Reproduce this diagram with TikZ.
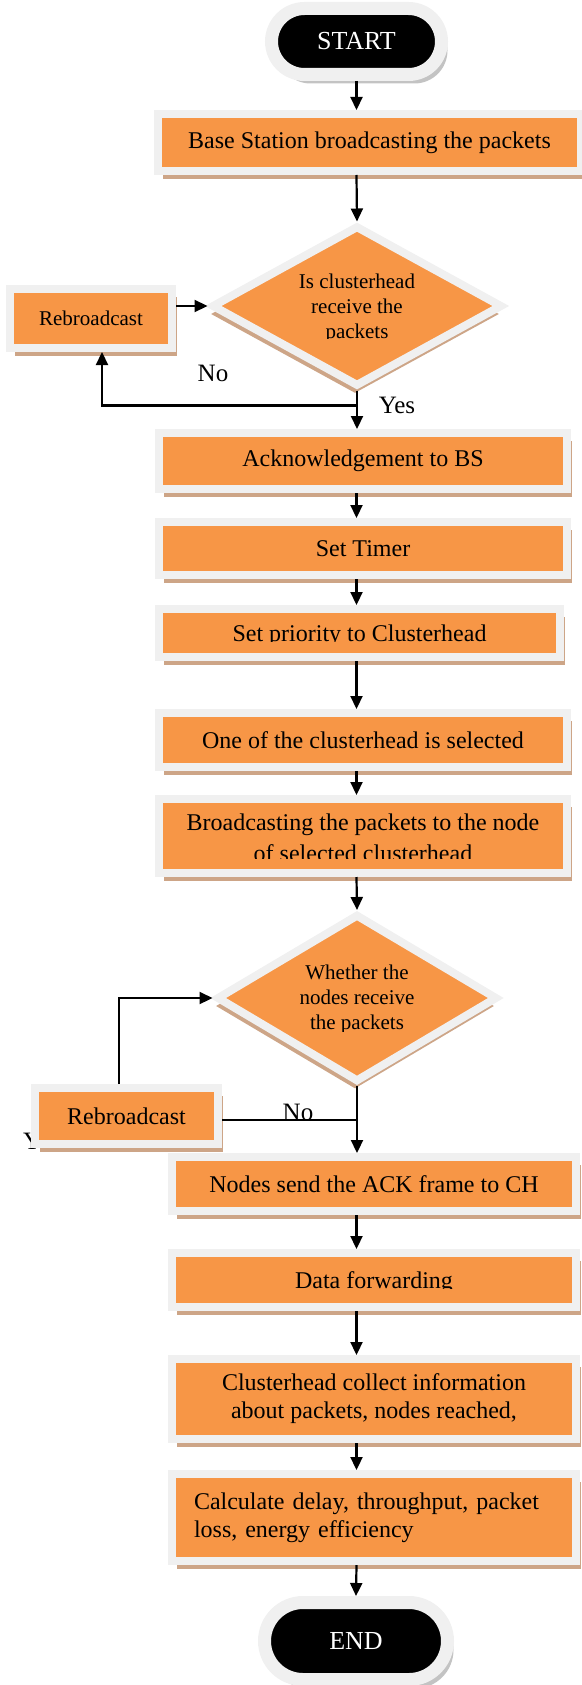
\documentclass[tikz,border=0pt]{standalone}
\usepackage{fontspec}
\setmainfont{Liberation Serif}
\usepackage{trimclip}
\usetikzlibrary{shapes.geometric}
\usetikzlibrary{arrows.meta}
\usetikzlibrary{shadows}

\definecolor{boxorange}{RGB}{247,150,70}
\definecolor{framegrey}{RGB}{240,240,240}
\definecolor{shadetan}{RGB}{205,165,135}
\definecolor{haloshade}{RGB}{195,195,195}

% text cut off at the bottom, as in the text boxes of the original
\newcommand{\cutlow}[2]{\clipbox{0pt #1 0pt 0pt}{#2}}

\tikzset{
  procbox/.style={rectangle, fill=boxorange, draw=framegrey, line width=8pt, inner sep=0pt, align=center,
    font=\fontsize{24}{28}\selectfont,
    drop shadow={shadow xshift=5pt, shadow yshift=-8pt, fill=shadetan, opacity=1}},
  decide/.style={diamond, aspect=1.8, fill=boxorange, draw=framegrey, line width=8pt, inner sep=0pt, align=center,
    font=\fontsize{21}{25}\selectfont,
    drop shadow={shadow xshift=-2pt, shadow yshift=-8pt, fill=shadetan, opacity=1}},
  termnode/.style={rectangle, rounded corners=33pt, fill=black, draw=framegrey, line width=13pt, text=white, inner sep=0pt,
    font=\fontsize{26}{30}\selectfont,
    drop shadow={shadow xshift=6pt, shadow yshift=-9pt, fill=haloshade, opacity=1}},
  lbl/.style={font=\fontsize{25}{30}\selectfont, inner sep=0pt},
  arr/.style={-{Triangle[length=13pt,width=12pt]}, line width=2.2pt},
  conn/.style={line width=2.2pt}
}

\begin{document}
\begin{tikzpicture}[x=1pt,y=-1pt]
\useasboundingbox (0,0) rectangle (581,1685);

\node[termnode, minimum width=170pt, minimum height=66pt] (start) at (356.5,41.5) {START};
\node[procbox, minimum width=423pt, minimum height=57pt] (bsbcast) at (369.5,142.5) {Base Station broadcasting the packets};
\node[decide, minimum width=291pt, minimum height=161pt] (chrecv) at (357,306) {Is clusterhead\\receive the\\\cutlow{4pt}{packets}};
\node[procbox, minimum width=162pt, minimum height=59pt, font=\fontsize{21}{25}\selectfont] (rebA) at (91,318.5) {Rebroadcast};
\node[procbox, minimum width=408pt, minimum height=56pt] (ackbs) at (363,461) {Acknowledgement to BS};
\node[procbox, minimum width=408pt, minimum height=53pt] (timer) at (363,548.5) {Set Timer};
\node[procbox, minimum width=401pt, minimum height=48pt] (prio) at (359.5,633) {\cutlow{5.5pt}{Set priority to Clusterhead}};
\node[procbox, minimum width=408pt, minimum height=54pt] (select) at (363,740) {One of the clusterhead is selected};
\node[procbox, minimum width=408pt, minimum height=74pt] (bcnode) at (363,836) {Broadcasting the packets to the node\\\cutlow{3pt}{of selected clusterhead}};
\node[decide, minimum width=281pt, minimum height=168pt] (ndrecv) at (357,998) {Whether the\\nodes receive\\\cutlow{2.5pt}{the packets}};
\node[lbl, anchor=base west] (yesB) at (23,1149) {Yes};
\node[procbox, minimum width=183pt, minimum height=56pt] (rebB) at (126.5,1116) {Rebroadcast};
\node[procbox, minimum width=404pt, minimum height=54pt] (ackch) at (374,1184) {Nodes send the ACK frame to CH};
\node[procbox, minimum width=404pt, minimum height=54pt] (fwd) at (374,1280) {\cutlow{5.2pt}{Data forwarding}};
\node[procbox, minimum width=404pt, minimum height=80pt] (collect) at (374,1399) {Clusterhead collect information\\about packets, nodes reached,};
\node[procbox, minimum width=404pt, minimum height=87pt, text width=360pt, align=left] (calc) at (374,1517.5) {Calculate delay, throughput, packet\\loss, energy efficiency};
\node[termnode, minimum width=183pt, minimum height=77pt, rounded corners=38.5pt] (finish) at (356,1641) {END};

\node[lbl] (noA) at (213,373) {No};
\node[lbl] (yesA) at (397,405) {Yes};
\node[lbl] (noB) at (298,1112) {No};

% main flow
\draw[arr] (start.south) -- (start.south |- bsbcast.north);
\draw[arr] (bsbcast.south -| start) -- (chrecv.north);
\draw[arr] (rebA.east |- chrecv.west) -- (chrecv.west);
\draw[arr] (chrecv.south) -- (chrecv.south |- ackbs.north);
\draw[arr] (chrecv.south) -- ++(0,15) -| ([xshift=11pt]rebA.south);
\draw[arr] (ackbs.south -| start) -- (timer.north -| start);
\draw[arr] (timer.south -| start) -- (prio.north -| start);
\draw[arr] (prio.south -| start) -- (select.north -| start);
\draw[arr] (select.south -| start) -- (bcnode.north -| start);
\draw[arr] (bcnode.south -| start) -- (ndrecv.north);
\draw[arr] ([xshift=-7.5pt]rebB.north) |- (ndrecv.west);
\draw[conn] ([yshift=-4pt]rebB.east) -- ([yshift=-4pt]rebB.east -| ndrecv.south);
\draw[arr] (ndrecv.south) -- (ndrecv.south |- ackch.north);
\draw[arr] (ackch.south -| start) -- (fwd.north -| start);
\draw[arr] (fwd.south -| start) -- (collect.north -| start);
\draw[arr] (collect.south -| start) -- (calc.north -| start);
\draw[arr] (calc.south -| start) -- (finish.north);
\end{tikzpicture}
\end{document}
